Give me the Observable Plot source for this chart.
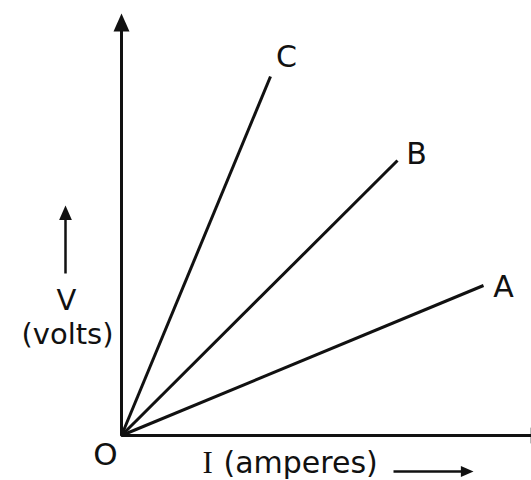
<!DOCTYPE html>
<html><head><meta charset="utf-8">
<script src="https://cdn.jsdelivr.net/npm/d3@7"></script>
<script src="https://cdn.jsdelivr.net/npm/@observablehq/plot@0.6"></script>
<style>html,body{margin:0;padding:0;background:#fff}#chart svg{display:block}</style>
</head><body><div id="chart"></div>
<script>
// Series (resistors) and the end points of their V–I lines (arbitrary units)
const series = ["A", "B", "C"];
const currentEnd = [9.05, 6.9, 3.725];
const voltageEnd = [3.75, 6.875, 8.975];
// Text
const originLabel = "O";
const xSymbol = "I";
const xLabel = "(amperes)";
const ySymbol = "V";
const yLabel = "(volts)";

const lines = series.flatMap((s, i) => [{s, I: 0, V: 0}, {s, I: currentEnd[i], V: voltageEnd[i]}]);
const ends = series.map((s, i) => ({s, I: currentEnd[i], V: voltageEnd[i]}));
const labelOffset = {A: [20, 2], B: [19, -6], C: [16, -19]};

// filled arrowhead symbol with its tip at the anchor, pointing up
const head = {
  draw(ctx, size) {
    const k = Math.sqrt(size / Math.PI);
    ctx.moveTo(0, 0);
    ctx.lineTo(-0.8 * k, 1.8 * k);
    ctx.lineTo(0.8 * k, 1.8 * k);
    ctx.closePath();
  }
};

const ink = "#111";
const font = "DejaVu Sans";

const chart = Plot.plot({
  width: 531,
  height: 480,
  margin: 0,
  x: {domain: [0, 10.25], range: [121, 531], axis: null},
  y: {domain: [0, 10.55], range: [435, 13], axis: null},
  style: {background: "#fff", fontFamily: font},
  marks: [
    // axes
    Plot.line([{I: 0, V: 10.2}, {I: 0, V: 0}, {I: 10.5, V: 0}],
      {x: "I", y: "V", stroke: ink, strokeWidth: 3, strokeLinejoin: "miter", strokeLinecap: "butt"}),
    Plot.dot([{I: 0, V: 10.55, rot: 0}, {I: 10.68, V: 0, rot: 90}],
      {x: "I", y: "V", rotate: "rot", symbol: head, r: 10, fill: ink}),
    // data lines
    Plot.line(lines, {x: "I", y: "V", z: "s", stroke: ink, strokeWidth: 3, strokeLinecap: "butt"}),
    ...series.map(s => Plot.text(ends.filter(d => d.s === s), {
      x: "I", y: "V", text: "s", dx: labelOffset[s][0], dy: labelOffset[s][1],
      fontSize: 30, fontFamily: font, fill: ink
    })),
    // origin
    Plot.text([{I: 0, V: 0, t: originLabel}], {x: "I", y: "V", text: "t", dx: -16, dy: 20, fontSize: 31, fontFamily: font, fill: ink}),
    // y label with arrow
    Plot.line([{I: -1.4, V: 4.05}, {I: -1.4, V: 5.5}], {x: "I", y: "V", stroke: ink, strokeWidth: 2.5, strokeLinecap: "butt"}),
    Plot.dot([{I: -1.4, V: 5.75}], {x: "I", y: "V", symbol: head, r: 8, fill: ink}),
    Plot.text([{I: -1.375, V: 3.36, t: ySymbol}], {x: "I", y: "V", text: "t", fontSize: 29, fontFamily: font, fill: ink}),
    Plot.text([{I: -1.35, V: 2.52, t: yLabel}], {x: "I", y: "V", text: "t", fontSize: 29, fontFamily: font, fill: ink}),
    // x label with arrow
    Plot.text([{I: 2.025, V: -0.7, t: xSymbol}], {x: "I", y: "V", text: "t", textAnchor: "start", fontSize: 31, fontFamily: "Liberation Serif", fill: ink}),
    Plot.text([{I: 2.55, V: -0.7, t: xLabel}], {x: "I", y: "V", text: "t", textAnchor: "start", fontSize: 30, fontFamily: font, fill: ink}),
    Plot.line([{I: 6.8, V: -0.9}, {I: 8.6, V: -0.9}], {x: "I", y: "V", stroke: ink, strokeWidth: 2.5, strokeLinecap: "butt"}),
    Plot.dot([{I: 8.8, V: -0.9, rot: 90}], {x: "I", y: "V", rotate: "rot", symbol: head, r: 7, fill: ink})
  ]
});
document.getElementById("chart").appendChild(chart);
</script>
</body></html>
